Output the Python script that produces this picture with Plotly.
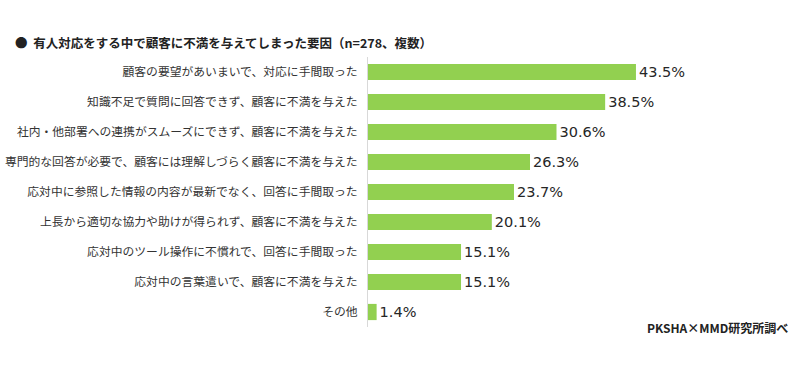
import plotly.graph_objects as go

categories = [
    "顧客の要望があいまいで、対応に手間取った",
    "知識不足で質問に回答できず、顧客に不満を与えた",
    "社内・他部署への連携がスムーズにできず、顧客に不満を与えた",
    "専門的な回答が必要で、顧客には理解しづらく顧客に不満を与えた",
    "応対中に参照した情報の内容が最新でなく、回答に手間取った",
    "上長から適切な協力や助けが得られず、顧客に不満を与えた",
    "応対中のツール操作に不慣れで、回答に手間取った",
    "応対中の言葉遣いで、顧客に不満を与えた",
    "その他",
]
values = [43.5, 38.5, 30.6, 26.3, 23.7, 20.1, 15.1, 15.1, 1.4]

title_text = "●  有人対応をする中で顧客に不満を与えてしまった要因（n=278、複数）"
source_text = "PKSHA×MMD研究所調べ"

FONT = "Noto Sans CJK JP, Noto Sans, sans-serif"
NUM_FONT = "DejaVu Sans, Verdana, sans-serif"

fig = go.Figure(
    go.Bar(
        x=values,
        y=categories,
        orientation="h",
        marker=dict(color="#92D050", line=dict(width=0)),
        width=0.54,
        text=values,
        texttemplate="%{x:.1f}%",
        textposition="outside",
        constraintext="none",
        textfont=dict(size=14.5, color="#262626", family=NUM_FONT),
        cliponaxis=False,
        hoverinfo="skip",
    )
)

fig.update_layout(
    width=800,
    height=372,
    margin=dict(l=368, r=0, t=57, b=45, autoexpand=False),
    paper_bgcolor="white",
    plot_bgcolor="white",
    font=dict(family=FONT, color="#333333"),
    showlegend=False,
    title=dict(
        text=title_text,
        x=15 / 800,
        xanchor="left",
        xref="container",
        y=1 - 44 / 372,
        yanchor="middle",
        yref="container",
        font=dict(size=12.5, color="#222222", family=FONT, weight="bold"),
    ),
    xaxis=dict(
        range=[0, 70.13],
        visible=False,
        showgrid=False,
        zeroline=False,
        automargin=False,
    ),
    yaxis=dict(
        autorange=False,
        range=[8.5, -0.5],
        showgrid=False,
        zeroline=False,
        showline=True,
        linecolor="#d9d9d9",
        linewidth=1,
        ticks="",
        automargin=False,
        ticklabelstandoff=7,
        tickfont=dict(size=11.8, color="#333333", family=FONT),
    ),
    annotations=[
        dict(
            text=source_text,
            xref="paper",
            yref="paper",
            x=(790 - 368) / 432,
            y=0,
            xanchor="right",
            yanchor="middle",
            showarrow=False,
            font=dict(size=12, color="#222222", family=FONT, weight="bold"),
        )
    ],
)

fig.write_html(
    "out.html",
    config={"displayModeBar": False},
    post_script="document.body.style.margin='0px';document.body.style.padding='0px';",
)
